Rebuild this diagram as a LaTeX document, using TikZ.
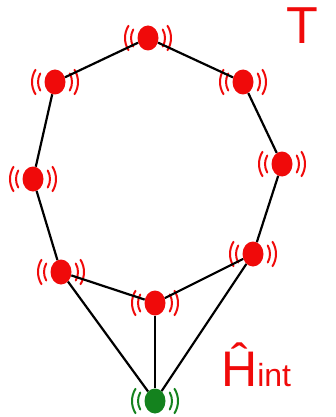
\documentclass[tikz,border=0pt]{standalone}
\usepackage{fontspec}
\setmainfont{Liberation Sans}
\usetikzlibrary{shapes.geometric}
\definecolor{qred}{RGB}{240,10,10}
\definecolor{qgreen}{RGB}{20,130,30}
\tikzset{
  qubit/.style={ellipse, fill=#1, draw=none, minimum width=21pt, minimum height=25pt, inner sep=0pt},
  wave/.style={line width=2pt, line cap=round},
  link/.style={line width=2.2pt, black},
  lbl/.style={text=qred, inner sep=0pt}
}
\newcommand{\waves}[2]{%
  \draw[wave,#2] (#1.center) ++(150:17) arc[start angle=150,end angle=210,radius=17];
  \draw[wave,#2] (#1.center) ++(148:23) arc[start angle=148,end angle=212,radius=23];
  \draw[wave,#2] (#1.center) ++(30:17) arc[start angle=30,end angle=-30,radius=17];
  \draw[wave,#2] (#1.center) ++(32:23) arc[start angle=32,end angle=-32,radius=23];
}
\begin{document}
\begin{tikzpicture}[x=1pt,y=-1pt]
\useasboundingbox (0,0) rectangle (336,417);
\node[qubit=qred] (t) at (148,38) {};
\node[qubit=qred] (ul) at (55,82) {};
\node[qubit=qred] (ur) at (243,82) {};
\node[qubit=qred] (ml) at (33,179) {};
\node[qubit=qred] (mr) at (282,164) {};
\node[qubit=qred] (ll) at (61,272) {};
\node[qubit=qred] (lr) at (253,254) {};
\node[qubit=qred] (c) at (155,303) {};
\node[qubit=qgreen] (b) at (155,401) {};
\foreach \n in {t,ul,ur,ml,mr,ll,lr,c}{\waves{\n}{qred}}
\waves{b}{qgreen}
\draw[link] (t) -- (ul);
\draw[link] (t) -- (ur);
\draw[link] (ul) -- (ml);
\draw[link] (ml) -- (ll);
\draw[link] (ur) -- (mr);
\draw[link] (mr) -- (lr);
\draw[link] (ll) -- (c);
\draw[link] (lr) -- (c);
\draw[link] (ll) -- (b);
\draw[link] (c) -- (b);
\draw[link] (lr) -- (b);
\node[lbl, font=\fontsize{52}{52}\selectfont, anchor=north west] (T) at (286,8) {T};
\node[lbl, anchor=base west] (H) at (221,386) {{\fontsize{50}{50}\selectfont Ĥ}{\fontsize{32}{32}\selectfont int}};
\end{tikzpicture}
\end{document}
